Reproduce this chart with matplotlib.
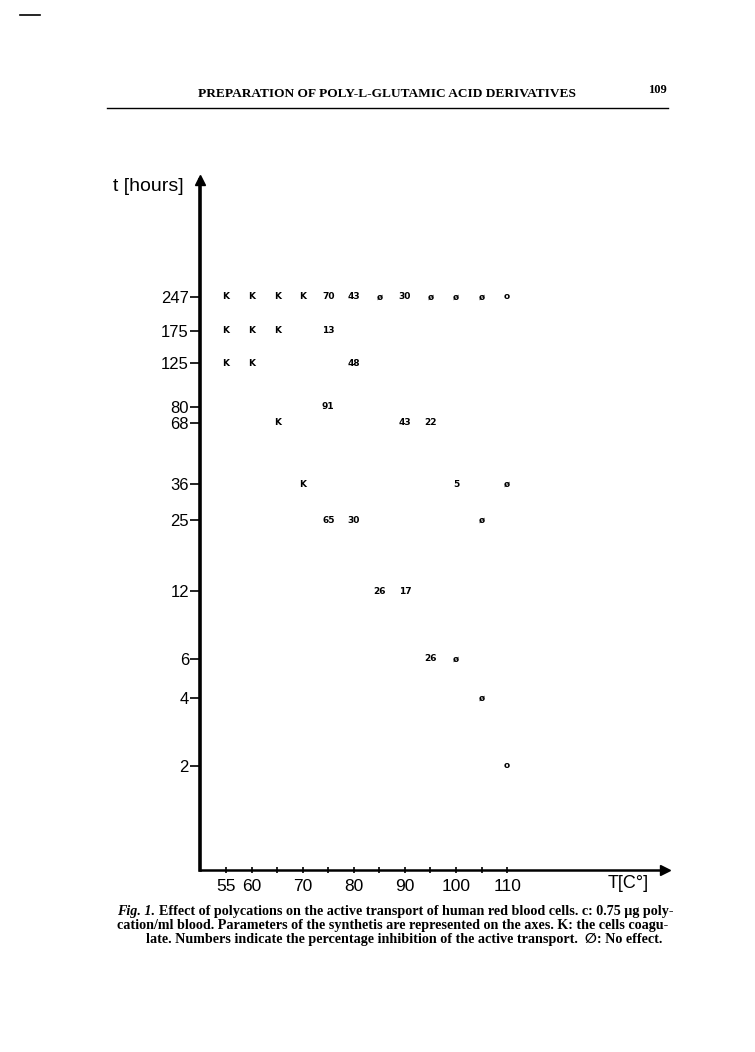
import numpy as np
import matplotlib.pyplot as plt
from matplotlib.lines import Line2D

# data: temperature (°C), time (hours), printed mark
temps = [55, 60, 65, 70, 75, 80, 85, 90, 95, 100, 105, 110,
         55, 60, 65, 75,
         55, 60, 80,
         75,
         65, 90, 95,
         70, 100, 110,
         75, 80, 105,
         85, 90,
         95, 100,
         105,
         110]
times = [247] * 12 + [175] * 4 + [125] * 3 + [80] + [68] * 3 + [36] * 3 + [25] * 3 + [12] * 2 + [6] * 2 + [4] + [2]
marks = ["K", "K", "K", "K", "70", "43", "ø", "30", "ø", "ø", "ø", "o",
         "K", "K", "K", "13",
         "K", "K", "48",
         "91",
         "K", "43", "22",
         "K", "5", "ø",
         "65", "30", "ø",
         "26", "17",
         "26", "ø",
         "ø",
         "o"]

y_ticks = [2, 4, 6, 12, 25, 36, 68, 80, 125, 175, 247]
x_major = [55, 60, 70, 80, 90, 100, 110]
x_minor = list(range(55, 115, 5))

W, H = 755, 1052
fig = plt.figure(figsize=(W / 100, H / 100), dpi=100)
ax = fig.add_axes([200 / W, (H - 870) / H, (665 - 200) / W, (870 - 180) / H])
ax.patch.set_alpha(0)

ax.set_yscale("log")
ax.set_xlim(49.9, 140.9)
ax.set_ylim(0.687, 821)

for x, y, m in zip(temps, times, marks):
    ax.text(x, y, m, ha="center", va="center", fontsize=6.5, fontweight="bold",
            family="DejaVu Sans")

for s in ("top", "right"):
    ax.spines[s].set_visible(False)
ax.spines["left"].set_linewidth(2.6)
ax.spines["bottom"].set_linewidth(1.8)
ax.plot(0, 1, marker="^", color="k", ms=7, transform=ax.transAxes, clip_on=False)
ax.plot(1, 0, marker=">", color="k", ms=7, transform=ax.transAxes, clip_on=False)

ax.yaxis.set_minor_locator(plt.NullLocator())
ax.set_yticks(y_ticks)
ax.set_yticklabels([str(v) for v in y_ticks], family="Liberation Sans", fontsize=12)
ax.tick_params(axis="y", length=7, width=1.2, pad=1)

ax.set_xticks(x_minor, minor=True)
ax.set_xticks(x_major)
ax.set_xticklabels([str(v) for v in x_major], family="Liberation Sans", fontsize=12.5)
ax.tick_params(axis="x", which="both", length=5, width=1.2, direction="inout", pad=4)

fig.text(113 / W, 1 - 187 / H, "t [hours]", fontsize=14, family="Liberation Sans",
         va="center", ha="left")
fig.text(628 / W, 1 - 884 / H, "T[C°]", fontsize=13, family="Liberation Sans",
         va="center", ha="center")

# page header
fig.text(387 / W, 1 - 94 / H, "PREPARATION OF POLY-L-GLUTAMIC ACID DERIVATIVES",
         fontsize=9.6, fontweight="bold", family="Liberation Serif", ha="center", va="center")
fig.text(657 / W, 1 - 90 / H, "109", fontsize=9, fontweight="bold",
         family="Liberation Serif", ha="center", va="center")
fig.add_artist(Line2D([107 / W, 668 / W], [1 - 108 / H, 1 - 108 / H], color="k", lw=1.0))
fig.add_artist(Line2D([20 / W, 40 / W], [1 - 15 / H, 1 - 15 / H], color="k", lw=1.2))

# caption
cap_font = ["Liberation Serif", "DejaVu Serif", "DejaVu Sans"]
cap_size = 10.2
fig.canvas.draw()
r = fig.canvas.get_renderer()
t0 = fig.text(117 / W, 1 - 911 / H, "Fig. 1.", fontsize=cap_size, fontweight="bold",
              style="italic", family=cap_font, ha="left", va="center")
w0 = t0.get_window_extent(renderer=r).width
fig.text((117 + w0 + 4) / W, 1 - 911 / H,
         "Effect of polycations on the active transport of human red blood cells. c: 0.75 μg poly-",
         fontsize=cap_size, fontweight="bold", family=cap_font, ha="left", va="center")
fig.text(117 / W, 1 - 925 / H,
         "cation/ml blood. Parameters of the synthetis are represented on the axes. K: the cells coagu-",
         fontsize=cap_size, fontweight="bold", family=cap_font, ha="left", va="center")
fig.text(404 / W, 1 - 939 / H,
         "late. Numbers indicate the percentage inhibition of the active transport.  ∅: No effect.",
         fontsize=cap_size, fontweight="bold", family=cap_font, ha="center", va="center")

fig.savefig("out.png", dpi=100)
